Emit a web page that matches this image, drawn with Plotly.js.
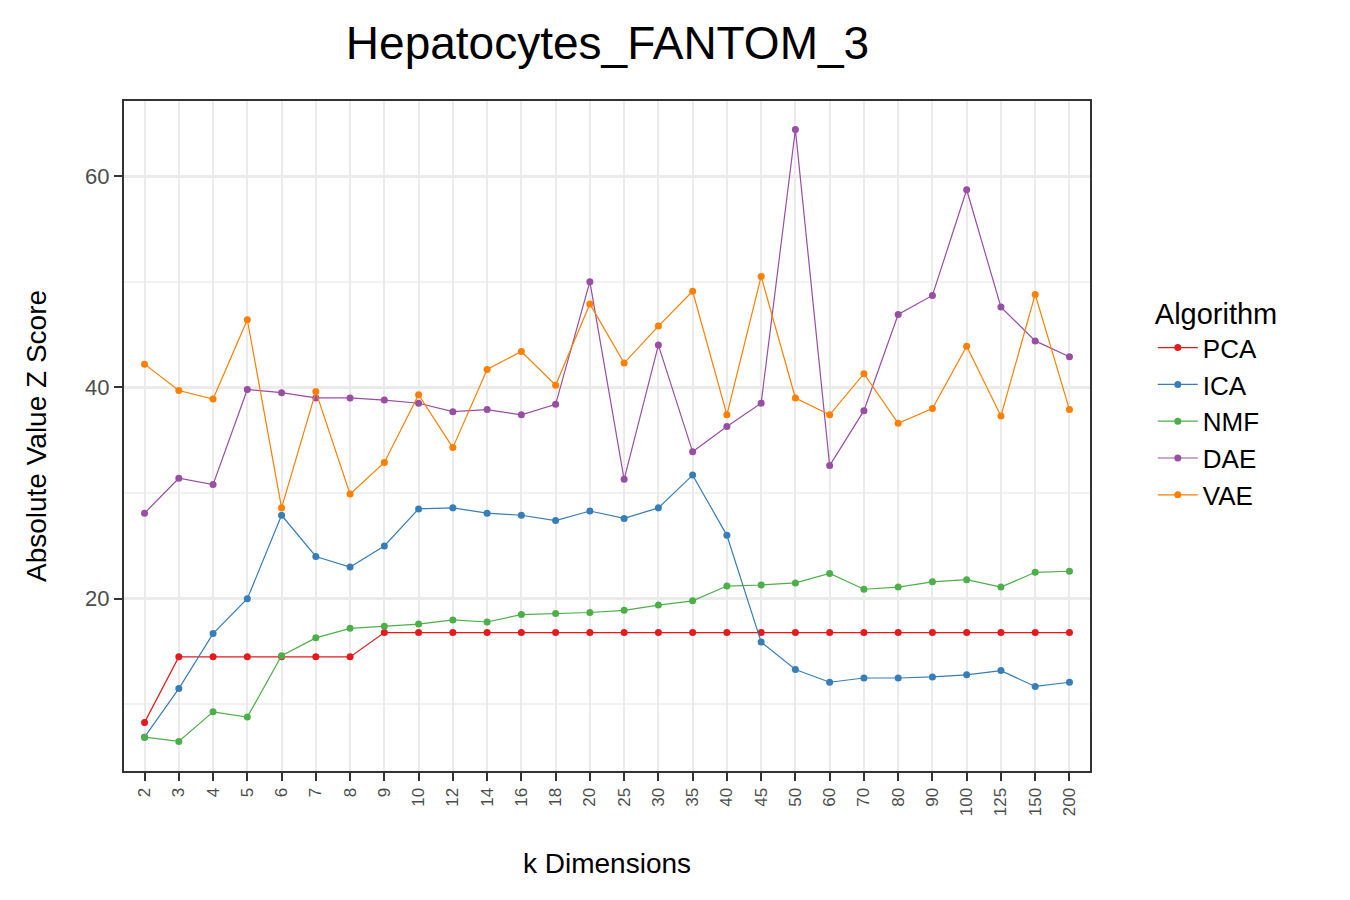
<!DOCTYPE html>
<html>
<head>
<meta charset="utf-8">
<script src="https://cdn.plot.ly/plotly-3.0.1.min.js"></script>
<style>body{margin:0;background:#fff}</style>
</head>
<body>
<div id="chart" style="width:1350px;height:900px"></div>
<script>
// k dimensions (categorical)
const kDims = ['2','3','4','5','6','7','8','9','10','12','14','16','18','20','25','30','35','40','45','50','60','70','80','90','100','125','150','200'];

const pca = [8.3,14.5,14.5,14.5,14.5,14.5,14.5,16.8,16.8,16.8,16.8,16.8,16.8,16.8,16.8,16.8,16.8,16.8,16.8,16.8,16.8,16.8,16.8,16.8,16.8,16.8,16.8,16.8];
const ica = [6.9,11.5,16.7,20,27.9,24,23,25,28.5,28.6,28.1,27.9,27.4,28.3,27.6,28.6,31.7,26,15.9,13.3,12.1,12.5,12.5,12.6,12.8,13.2,11.7,12.1];
const nmf = [6.9,6.5,9.3,8.8,14.6,16.3,17.2,17.4,17.6,18,17.8,18.5,18.6,18.7,18.9,19.4,19.8,21.2,21.3,21.5,22.4,20.9,21.1,21.6,21.8,21.1,22.5,22.6];
const dae = [28.1,31.4,30.8,39.8,39.5,39,39,38.8,38.5,37.7,37.9,37.4,38.4,50,31.3,44,33.9,36.3,38.5,64.4,32.6,37.8,46.9,48.7,58.7,47.6,44.4,42.9];
const vae = [42.2,39.7,38.9,46.4,28.6,39.6,29.9,32.9,39.3,34.3,41.7,43.4,40.2,47.9,42.3,45.8,49.1,37.4,50.5,39,37.4,41.3,36.6,38,43.9,37.3,48.8,37.9];

const series = [
  {name: 'PCA', y: pca, color: '#E41A1C'},
  {name: 'ICA', y: ica, color: '#377EB8'},
  {name: 'NMF', y: nmf, color: '#4DAF4A'},
  {name: 'DAE', y: dae, color: '#984EA3'},
  {name: 'VAE', y: vae, color: '#FF7F00'}
];

const traces = series.map(s => ({
  x: kDims,
  y: s.y,
  name: s.name,
  type: 'scatter',
  mode: 'lines+markers',
  line: {color: s.color, width: 1.2},
  marker: {color: s.color, size: 7}
}));

const layout = {
  width: 1350, height: 900,
  font: {family: 'Liberation Sans, Arial, sans-serif', color: '#000'},
  margin: {l: 124, r: 260, t: 101, b: 129},
  paper_bgcolor: '#fff', plot_bgcolor: '#fff',
  title: {text: 'Hepatocytes_FANTOM_3', font: {size: 46}, x: 0.45, xanchor: 'center', y: 0.97},
  xaxis: {
    type: 'category', categoryorder: 'array', categoryarray: kDims,
    title: {text: 'k Dimensions', font: {size: 28}, standoff: 38},
    tickangle: -90, tickfont: {size: 17, color: '#4d4d4d'},
    ticks: 'outside', ticklen: 8, tickcolor: '#333', tickwidth: 2,
    showgrid: true, gridcolor: '#ebebeb', gridwidth: 2,
    showline: true, mirror: true, linecolor: '#333', linewidth: 2,
    range: [-0.6, 27.6], zeroline: false
  },
  yaxis: {
    title: {text: 'Absolute Value Z Score', font: {size: 28}, standoff: 30},
    range: [3.7, 67.1], tick0: 0, dtick: 20,
    tickfont: {size: 22, color: '#4d4d4d'},
    ticks: 'outside', ticklen: 8, tickcolor: '#333', tickwidth: 2,
    showgrid: true, gridcolor: '#ebebeb', gridwidth: 2.5,
    minor: {dtick: 10, tick0: 0, showgrid: true, gridcolor: '#f2f2f2', gridwidth: 1.5, ticks: ''},
    showline: true, mirror: true, linecolor: '#333', linewidth: 2,
    zeroline: false
  },
  legend: {
    title: {text: 'Algorithm', font: {size: 29}},
    font: {size: 26}, x: 1.065, y: 0.55, yanchor: 'middle',
    tracegroupgap: 10, itemwidth: 40
  }
};

Plotly.newPlot('chart', traces, layout, {displayModeBar: false});
</script>
</body>
</html>
